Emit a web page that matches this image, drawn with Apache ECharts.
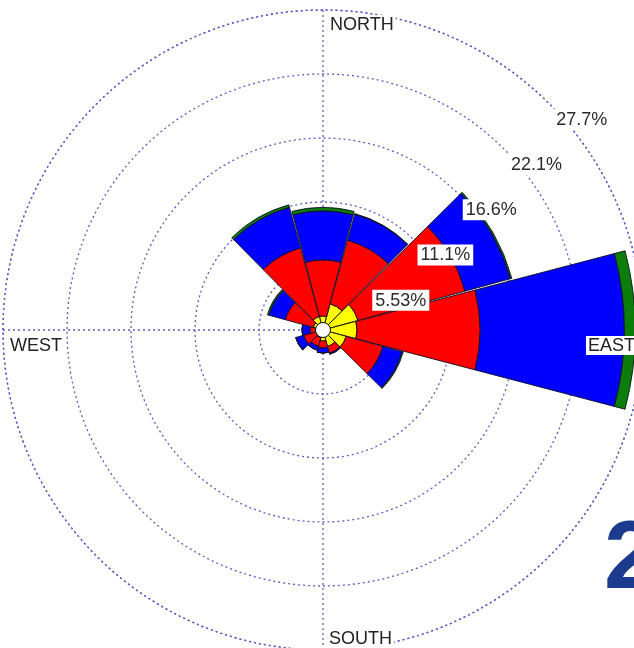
<!DOCTYPE html>
<html>
<head>
<meta charset="utf-8">
<script src="https://cdn.jsdelivr.net/npm/echarts@6/dist/echarts.min.js"></script>
<style>
  html, body { margin: 0; padding: 0; background: #fff; }
  #chart { width: 634px; height: 648px; }
</style>
</head>
<body>
<div id="chart"></div>
<script>
// Wind rose: 12 direction sectors (30° each), frequency in % stacked by class.
const sectors = ['0°', '30°', '60°', '90°', '120°', '150°', '180°', '210°', '240°', '270°', '300°', '330°'];
const classYellow = [1.21, 2.34, 3.12, 2.94, 2.08, 1.47, 0.95, 0.69, 0.61, 0.61, 0.87, 1.21];
const classRed    = [4.85, 5.71, 9.61, 10.65, 3.29, 0.61, 0.61, 0.78, 1.13, 0.52, 2.51, 6.15];
const classBlue   = [4.24, 2.34, 4.07, 12.46, 1.73, 0.09, 0.43, 0.35, 0.69, 0.69, 1.47, 3.64];
const classGreen  = [0.30, 0.04, 0.13, 0.95, 0.09, 0.00, 0.00, 0.00, 0.04, 0.00, 0.13, 0.22];

// Frequency rings and their labels
const ringValues = [5.534, 11.068, 16.602, 22.136, 27.67];
const ringLabels = ['5.53%', '11.1%', '16.6%', '22.1%', '27.7%'];
const ringLabelBearing = 45;

// Compass labels
const compassNames = ['NORTH', 'EAST', 'SOUTH', 'WEST'];
const compassBearings = [0, 90, 180, 270];

const maxR = 27.67;
const FONT = 'Liberation Sans, Arial, sans-serif';
const gridLine = { color: '#5c5cc4', width: 1.3, type: [2, 3] };

const classColors = ['#ffff00', '#ff0000', '#0000ff', '#0a7d0a'];
const classData = [classYellow, classRed, classBlue, classGreen];

const chart = echarts.init(document.getElementById('chart'), null, { renderer: 'canvas' });

const barSeries = classData.map((arr, i) => ({
  type: 'bar',
  coordinateSystem: 'polar',
  polarIndex: 0,
  stack: 'freq',
  data: arr,
  barCategoryGap: '2%',
  itemStyle: { color: classColors[i], borderColor: '#101024', borderWidth: 0.9 },
  z: 3,
  silent: true
}));

// label offsets for compass names, keyed by bearing
const compassLabelStyle = {
  0:   { position: [5, 5],  align: 'left',  verticalAlign: 'top' },
  90:  { position: [-6, 6], align: 'right', verticalAlign: 'top' },
  180: { position: [4, -2], align: 'left',  verticalAlign: 'bottom' },
  270: { position: [5, 6],  align: 'left',  verticalAlign: 'top' }
};

const option = {
  backgroundColor: '#fff',
  animation: false,
  polar: [
    { center: [323, 330], radius: [0, 320] },
    { center: [323, 330], radius: [0, 320] }
  ],
  angleAxis: [
    {
      polarIndex: 0, type: 'category', data: sectors, startAngle: 105, clockwise: true,
      axisLine: { show: false }, axisTick: { show: false }, axisLabel: { show: false },
      splitLine: { show: false }
    },
    {
      polarIndex: 1, type: 'value', min: 0, max: 360, interval: 90, startAngle: 90, clockwise: true,
      axisLine: { show: true, lineStyle: gridLine }, axisTick: { show: false }, axisLabel: { show: false },
      splitLine: { show: true, lineStyle: gridLine }
    }
  ],
  radiusAxis: [
    {
      polarIndex: 0, type: 'value', min: 0, max: maxR,
      axisLine: { show: false }, axisTick: { show: false }, axisLabel: { show: false },
      splitLine: { show: false }
    },
    {
      polarIndex: 1, type: 'value', min: 0, max: maxR, interval: maxR / 5,
      axisLine: { show: false }, axisTick: { show: false }, axisLabel: { show: false },
      splitLine: { show: true, lineStyle: gridLine }
    }
  ],
  series: barSeries.concat([
    // calm circle in the middle
    {
      type: 'scatter', coordinateSystem: 'polar', polarIndex: 1,
      data: [[0, 0]], symbol: 'circle', symbolSize: 15,
      itemStyle: { color: '#fff', borderColor: '#111', borderWidth: 1, opacity: 1 },
      z: 8, silent: true
    },
    // ring frequency labels
    {
      type: 'scatter', coordinateSystem: 'polar', polarIndex: 1,
      data: ringValues.map(v => [v, ringLabelBearing]), symbolSize: 0,
      itemStyle: { opacity: 1 },
      label: {
        show: true,
        formatter: p => ringLabels[p.dataIndex],
        position: [4, 5], align: 'left', verticalAlign: 'top',
        backgroundColor: '#ffffff', padding: [2, 3, 1, 3],
        fontSize: 18, color: '#2a2a2a', fontFamily: FONT
      },
      z: 10, silent: true
    },
    // compass direction labels
    {
      type: 'scatter', coordinateSystem: 'polar', polarIndex: 1,
      data: compassBearings.map((b, i) => ({
        value: [maxR, b],
        label: Object.assign({ formatter: compassNames[i] }, compassLabelStyle[b])
      })),
      symbolSize: 0,
      itemStyle: { opacity: 1 },
      label: {
        show: true, backgroundColor: '#ffffff', padding: [1, 2, 0, 2],
        fontSize: 18, color: '#222', fontFamily: FONT
      },
      z: 10, silent: true
    }
  ]),
  graphic: [
    {
      type: 'text', left: 604, top: 514, z: 20, silent: true,
      style: {
        text: '2', font: 'bold 96px ' + FONT, fill: '#1d3b8e',
        shadowColor: 'rgba(0,0,40,0.45)', shadowBlur: 4, shadowOffsetX: 2, shadowOffsetY: 2
      }
    }
  ]
};

chart.setOption(option);
</script>
</body>
</html>
